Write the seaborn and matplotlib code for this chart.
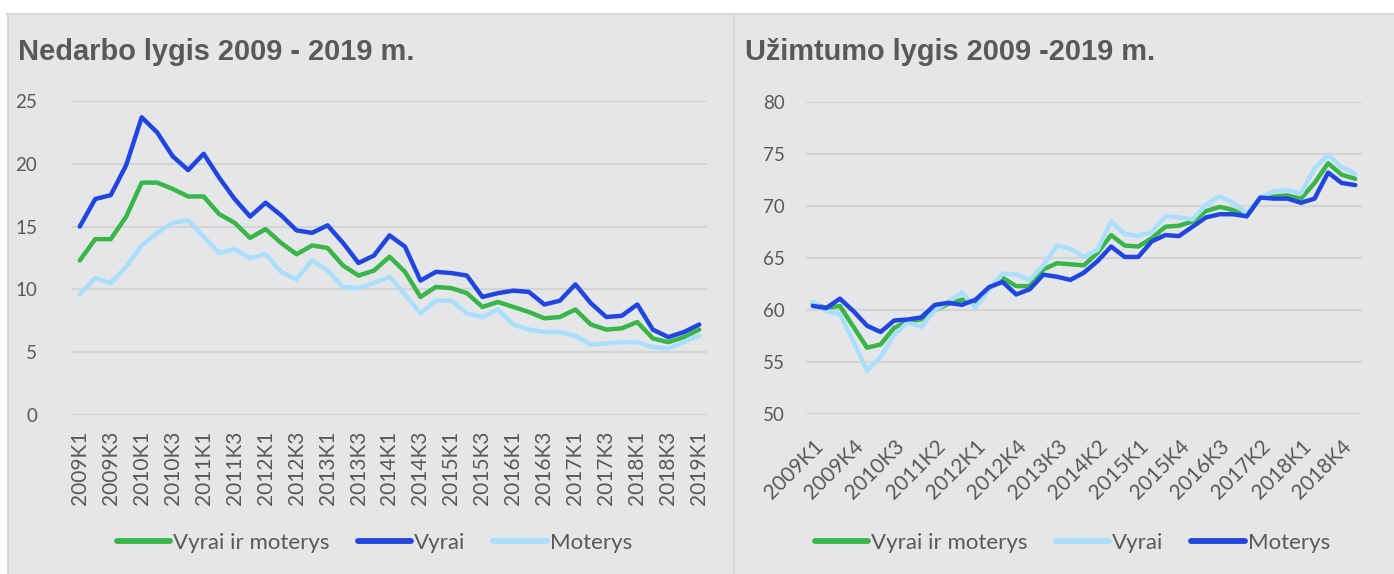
import matplotlib
matplotlib.use("Agg")
import matplotlib.pyplot as plt
import matplotlib.lines as mlines
import matplotlib.patches as mpatches
import seaborn as sns
import pandas as pd

# ---------------- data ----------------
quarters = [f"{y}K{q}" for y in range(2009, 2019) for q in range(1, 5)] + ["2019K1"]

unemp_total = [12.3, 14.0, 14.0, 15.8, 18.5, 18.5, 18.0, 17.4, 17.4, 16.0, 15.3, 14.1, 14.8, 13.7,
               12.8, 13.5, 13.3, 11.9, 11.1, 11.5, 12.6, 11.4, 9.4, 10.2, 10.1, 9.7, 8.6, 9.0,
               8.6, 8.2, 7.7, 7.8, 8.4, 7.2, 6.8, 6.9, 7.4, 6.1, 5.8, 6.2, 6.8]
unemp_men = [15.0, 17.2, 17.5, 19.9, 23.7, 22.5, 20.6, 19.5, 20.8, 18.9, 17.2, 15.8, 16.9, 15.9,
             14.7, 14.5, 15.1, 13.7, 12.1, 12.7, 14.3, 13.4, 10.7, 11.4, 11.3, 11.1, 9.4, 9.7,
             9.9, 9.8, 8.8, 9.1, 10.4, 8.9, 7.8, 7.9, 8.8, 6.8, 6.2, 6.6, 7.2]
unemp_women = [9.6, 10.9, 10.5, 11.8, 13.5, 14.5, 15.3, 15.5, 14.2, 12.9, 13.2, 12.5, 12.8, 11.4,
               10.8, 12.3, 11.5, 10.2, 10.1, 10.5, 11.0, 9.6, 8.1, 9.1, 9.1, 8.1, 7.8, 8.4,
               7.2, 6.8, 6.6, 6.6, 6.3, 5.6, 5.7, 5.8, 5.8, 5.4, 5.3, 5.8, 6.3]

emp_total = [60.6, 60.2, 60.4, 58.4, 56.4, 56.7, 58.3, 58.9, 59.1, 60.0, 60.6, 61.0, 60.7, 62.1,
             63.1, 62.3, 62.3, 63.9, 64.5, 64.4, 64.3, 65.5, 67.2, 66.2, 66.1, 66.9, 68.0, 68.1,
             68.5, 69.5, 69.9, 69.6, 69.0, 70.8, 70.9, 71.0, 70.7, 72.2, 74.1, 73.0, 72.6]
emp_men = [60.8, 59.9, 59.6, 57.0, 54.2, 55.5, 57.6, 58.8, 58.4, 60.0, 60.8, 61.7, 60.2, 62.0,
           63.5, 63.4, 62.9, 64.3, 66.2, 65.9, 65.1, 65.8, 68.5, 67.3, 67.1, 67.5, 69.0, 68.9,
           68.7, 70.1, 70.9, 70.3, 69.3, 70.8, 71.4, 71.5, 71.2, 73.6, 74.9, 73.7, 73.1]
emp_women = [60.4, 60.2, 61.1, 59.9, 58.5, 57.9, 59.0, 59.1, 59.3, 60.5, 60.7, 60.5, 61.0, 62.2,
             62.7, 61.5, 62.0, 63.4, 63.2, 62.9, 63.6, 64.7, 66.1, 65.1, 65.1, 66.6, 67.2, 67.1,
             68.0, 68.9, 69.2, 69.2, 69.0, 70.8, 70.7, 70.7, 70.3, 70.7, 73.2, 72.2, 72.0]

series_names = ["Vyrai ir moterys", "Vyrai", "Moterys"]
title_left = "Nedarbo lygis 2009 - 2019 m."
title_right = "Užimtumo lygis 2009 -2019 m."

# ---------------- style ----------------
GREEN = "#3AB54A"
DARK = "#2145DF"
LIGHT = "#A9DEFC"
BG = "#E5E6E8"
GRID = "#D3D4D6"
TXT = "#595959"
TICKFONT = "Lato"

W, H = 1394, 574
fig = plt.figure(figsize=(W / 100, H / 100), dpi=100, facecolor=BG)

# white strips and panel borders
fig.add_artist(mpatches.Rectangle((0, 1 - 13 / H), 1, 13 / H, transform=fig.transFigure,
                                  facecolor="white", edgecolor="none", zorder=0))
fig.add_artist(mpatches.Rectangle((0, 0), 7 / W, 1, transform=fig.transFigure,
                                  facecolor="white", edgecolor="none", zorder=0))
fig.add_artist(mlines.Line2D([7 / W, 1], [1 - 13.5 / H, 1 - 13.5 / H], transform=fig.transFigure,
                             color="#D6D7D9", lw=1.5))
fig.add_artist(mlines.Line2D([7.5 / W, 7.5 / W], [0, 1 - 13.5 / H], transform=fig.transFigure,
                             color="#D6D7D9", lw=1.5))
fig.add_artist(mlines.Line2D([734 / W, 734 / W], [0, 1 - 13.5 / H], transform=fig.transFigure,
                             color="#D6D7D9", lw=1.5))


def make_df(vals):
    rows = []
    for name, v in zip(series_names, vals):
        for i, val in enumerate(v):
            rows.append({"idx": i, "value": val, "series": name})
    return pd.DataFrame(rows)


def style_axis(ax, ylo, yhi, ypad):
    ax.set_facecolor("none")
    for s in ax.spines.values():
        s.set_visible(False)
    ax.set_ylim(ylo, yhi)
    ax.set_yticks(range(ylo, yhi + 1, 5))
    ax.set_xlim(-0.5, len(quarters) - 0.5)
    ax.grid(axis="y", color=GRID, lw=1.6)
    ax.grid(axis="x", visible=False)
    ax.set_axisbelow(True)
    ax.set_xlabel("")
    ax.set_ylabel("")
    ax.tick_params(axis="both", length=0, colors=TXT)
    ax.tick_params(axis="y", pad=ypad)
    for lab in ax.get_yticklabels():
        lab.set_fontfamily(TICKFONT)
        lab.set_fontsize(13.5)
        lab.set_color(TXT)


# ---------------- left chart ----------------
ax1 = fig.add_axes([72 / W, 1 - 415 / H, 635 / W, 314 / H])
df1 = make_df([unemp_total, unemp_men, unemp_women])
sns.lineplot(data=df1, x="idx", y="value", hue="series", hue_order=series_names,
             palette={"Vyrai ir moterys": GREEN, "Vyrai": DARK, "Moterys": LIGHT},
             lw=3.2, ax=ax1, legend=True, sort=False)
h1, l1 = ax1.get_legend_handles_labels()
ax1.get_legend().remove()
style_axis(ax1, 0, 25, 25)
ax1.set_xticks(range(0, len(quarters), 2))
ax1.set_xticklabels(quarters[::2], rotation=90, fontfamily=TICKFONT, fontsize=15, color=TXT)
ax1.tick_params(axis="x", pad=11)

# ---------------- right chart ----------------
ax2 = fig.add_axes([806 / W, 1 - 414.3 / H, 556 / W, 312.6 / H])
df2 = make_df([emp_total, emp_men, emp_women])
sns.lineplot(data=df2, x="idx", y="value", hue="series", hue_order=series_names,
             palette={"Vyrai ir moterys": GREEN, "Vyrai": LIGHT, "Moterys": DARK},
             lw=3.2, ax=ax2, legend=True, sort=False)
h2, l2 = ax2.get_legend_handles_labels()
ax2.get_legend().remove()
style_axis(ax2, 50, 80, 15)
ax2.set_xticks(range(0, len(quarters) - 1, 3))
ax2.set_xticklabels(quarters[:-1:3], rotation=45, ha="right", rotation_mode="anchor",
                    fontfamily=TICKFONT, fontsize=15, color=TXT)
ax2.tick_params(axis="x", pad=16)

for ax in (ax1, ax2):
    for ln in ax.get_lines():
        ln.set_solid_capstyle("round")
        ln.set_solid_joinstyle("round")

# ---------------- titles ----------------
fig.text(18 / W, 1 - 60 / H, title_left, fontfamily="Liberation Sans", fontweight="bold",
         fontsize=20.9, color=TXT, va="baseline", ha="left")
fig.text(745 / W, 1 - 60 / H, title_right, fontfamily="Liberation Sans", fontweight="bold",
         fontsize=20.9, color=TXT, va="baseline", ha="left")

# ---------------- legends ----------------
def add_legend(handles, labels, cx):
    hs = [mlines.Line2D([], [], color=h.get_color(), lw=4.2, solid_capstyle="round") for h in handles]
    leg = fig.legend(hs, labels, loc="center", bbox_to_anchor=(cx / W, 1 - 543 / H), ncol=3,
                     frameon=False, handlelength=2.4, handletextpad=0.15, columnspacing=1.25,
                     prop={"family": TICKFONT, "size": 16})
    for t in leg.get_texts():
        t.set_color(TXT)
    return leg


add_legend(h1, l1, 374.5)
add_legend(h2, l2, 1072.5)

fig.savefig("out.png", dpi=100, facecolor=BG)
